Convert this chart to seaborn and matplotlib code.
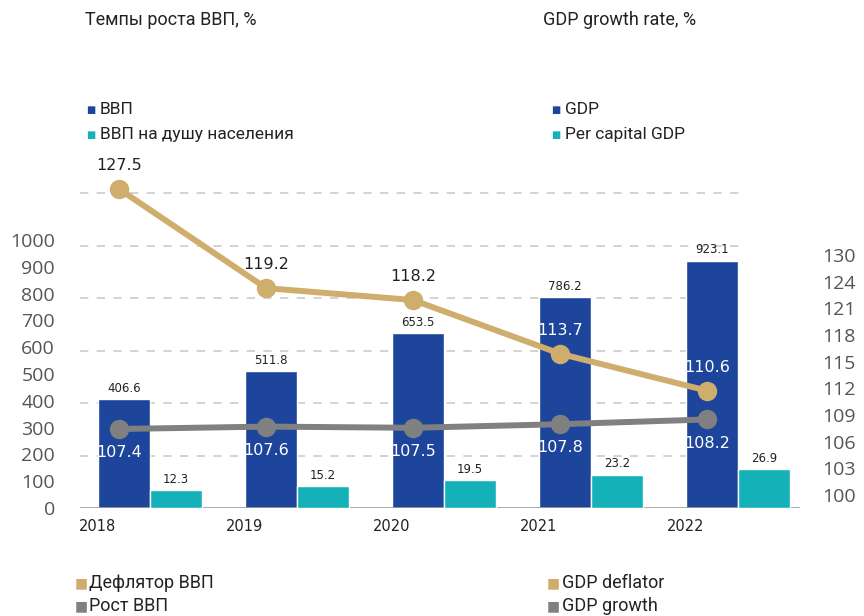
import numpy as np
import pandas as pd
import seaborn as sns
import matplotlib.pyplot as plt

sns.set_style("white")
plt.rcParams['font.family'] = ['DejaVu Sans']

years = ['2018', '2019', '2020', '2021', '2022']
gdp = [406.6, 511.8, 653.5, 786.2, 923.1]
gdp_per_capita = [12.3, 15.2, 19.5, 23.2, 26.9]
deflator = [127.5, 119.2, 118.2, 113.7, 110.6]
growth = [107.4, 107.6, 107.5, 107.8, 108.2]
left_ticks = [0, 100, 200, 300, 400, 500, 600, 700, 800, 900, 1000]
right_tick_labels = ['100', '103', '106', '109', '112', '115', '118', '121', '124', '130']

blue = '#1D459B'
teal = '#14B2B8'
tan = '#CFAD6C'
grey = '#808080'
dark = '#222222'

df = pd.DataFrame({
    'year': years * 2,
    'value': gdp + gdp_per_capita,
    'series': ['ВВП'] * 5 + ['ВВП на душу населения'] * 5,
})

fig = plt.figure(figsize=(8.64, 6.16), dpi=100)
ax = fig.add_axes([80 / 864, 108 / 616, 720 / 864, 315 / 616])
xlim = (-0.476, 4.42)

# GDP bars on the main axis (per-capita slot hidden, it has its own scale)
sns.barplot(data=df, x='year', y='value', hue='series', palette=[blue, teal],
            width=0.71, saturation=1, legend=False, ax=ax, zorder=2)
for p in ax.containers[1]:
    p.set_visible(False)
ax.bar_label(ax.containers[0], fmt='%.1f', padding=3, fontsize=8.5, color=dark)

ymax = 1175
ax.set_ylim(0, ymax)
ax.set_xlim(*xlim)
for v in np.arange(1, 7) * ymax / 6:
    ax.axhline(v, xmax=0.917, color='#cccccc', lw=1.2, ls=(0, (5, 5)), zorder=0, clip_on=False)
ax.axhline(0, color='#9a9a9a', lw=1.2, zorder=3)

ax.set_yticks(left_ticks)
ax.set_xticks(np.arange(5) - 0.36, years)
ax.tick_params(axis='y', length=0, pad=18, labelsize=14, labelcolor='#555555')
ax.tick_params(axis='x', length=0, pad=8, labelsize=10.5, labelcolor=dark)
for t in ax.get_yticklabels():
    t.set_fontfamily('Open Sans')
ax.set_xlabel('')
ax.set_ylabel('')
sns.despine(ax=ax, left=True, bottom=True)

# per-capita bars on their own hidden scale
ax3 = ax.twinx()
sns.barplot(data=df, x='year', y='value', hue='series', palette=[blue, teal],
            width=0.71, saturation=1, legend=False, ax=ax3, zorder=2)
for p in ax3.containers[0]:
    p.set_visible(False)
ax3.bar_label(ax3.containers[1], fmt='%.1f', padding=3, fontsize=8.5, color=dark)
ax3.set_ylim(0, 219)
ax3.set_xlim(*xlim)
ax3.axis('off')

# lines on the secondary axis
ax2 = ax.twinx()
xl = np.arange(5) - 0.21
sns.lineplot(x=xl, y=deflator, ax=ax2, color=tan, lw=4.3, marker='o',
             markersize=14, markeredgewidth=0, clip_on=False)
sns.lineplot(x=xl, y=growth, ax=ax2, color=grey, lw=4.3, marker='o',
             markersize=14, markeredgewidth=0, clip_on=False)
ax2.set_ylim(100.78, 127.17)
ax2.set_xlim(*xlim)
ax2.set_yticks(np.linspace(101.87, 121.99, 10), right_tick_labels)
ax2.tick_params(axis='y', length=0, pad=16, labelsize=14, labelcolor='#555555')
for t in ax2.get_yticklabels():
    t.set_fontfamily('Open Sans')
ax2.set_ylabel('')
for s in ax2.spines.values():
    s.set_visible(False)

defl_colors = [dark, dark, dark, 'white', 'white']
for x, v, c in zip(xl, deflator, defl_colors):
    ax2.annotate(f'{v:.1f}', (x, v), xytext=(0, 17), textcoords='offset points',
                 ha='center', va='center', fontsize=11.5, color=c, annotation_clip=False)
for x, v in zip(xl, growth):
    ax2.annotate(f'{v:.1f}', (x, v), xytext=(0, -17), textcoords='offset points',
                 ha='center', va='center', fontsize=11.5, color='white', annotation_clip=False)

# headings and legends
hfont = dict(family='Roboto', color=dark)
fig.text(85 / 864, 1 - 20 / 616, 'Темпы роста ВВП, %', fontsize=13, va='center', **hfont)
fig.text(543 / 864, 1 - 20 / 616, 'GDP growth rate, %', fontsize=13, va='center', **hfont)

top_rows = [(110, blue, 'ВВП', 'GDP'),
            (135, teal, 'ВВП на душу населения', 'Per capital GDP')]
for y, col, ru, en in top_rows:
    fig.text(86 / 864, 1 - y / 616, '■', fontsize=7, color=col, va='center', family='DejaVu Sans')
    fig.text(100 / 864, 1 - y / 616, ru, fontsize=12.5, va='center', **hfont)
    fig.text(551 / 864, 1 - y / 616, '■', fontsize=7, color=col, va='center', family='DejaVu Sans')
    fig.text(565 / 864, 1 - y / 616, en, fontsize=12.5, va='center', **hfont)

bottom_rows = [(583, tan, 'Дефлятор ВВП', 'GDP deflator'),
               (606, grey, 'Рост ВВП', 'GDP growth')]
for y, col, ru, en in bottom_rows:
    fig.text(75 / 864, 1 - y / 616, '■', fontsize=10, color=col, va='center', family='DejaVu Sans')
    fig.text(89 / 864, 1 - y / 616, ru, fontsize=13, va='center', **hfont)
    fig.text(547 / 864, 1 - y / 616, '■', fontsize=10, color=col, va='center', family='DejaVu Sans')
    fig.text(562 / 864, 1 - y / 616, en, fontsize=13, va='center', **hfont)

fig.savefig('out.png', dpi=100)
